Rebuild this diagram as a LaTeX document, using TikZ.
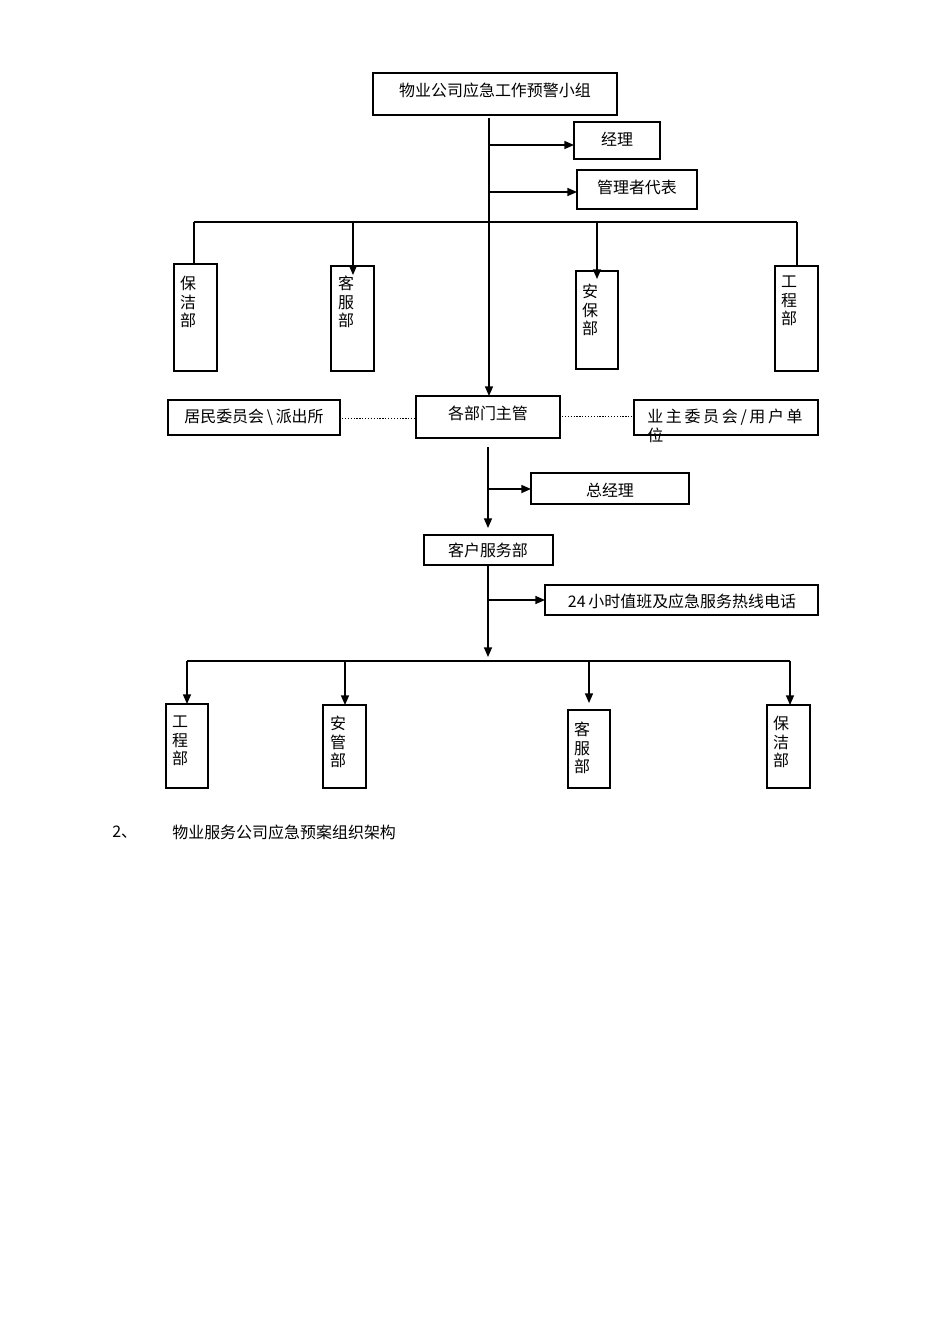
\documentclass[tikz,border=0pt]{standalone}
\usepackage{fontspec}
\setmainfont{Liberation Serif}
\newfontfamily\cjk{Noto Sans CJK SC}
\usetikzlibrary{arrows.meta}
\begin{document}
\begin{tikzpicture}[x=0.626pt,y=-0.626pt,
  box/.style={draw,line width=0.8pt},
  lbl/.style={font=\cjk\fontsize{10}{12}\selectfont,inner sep=0pt},
  vl/.style={font=\cjk\fontsize{10}{11.5}\selectfont,inner sep=0pt,align=center,anchor=north},
  ln/.style={line width=0.8pt},
  arr/.style={ln,-{Triangle[length=6pt,width=5pt]}}]
\useasboundingbox[fill=white] (0,0) rectangle (950,1344);
% top
\draw[box] (373,73) rectangle (617,115); \node[lbl] (top) at (495,90) {物业公司应急工作预警小组};
\draw[box] (574,122) rectangle (660,159); \node[lbl] (jl) at (617,139) {经理};
\draw[box] (577,170) rectangle (697,209); \node[lbl] (gl) at (637,187) {管理者代表};
\coordinate (t0) at (489,118);
\coordinate (b1) at (489,145); \coordinate (b2) at (489,192);
\draw[arr] (b1) -- (574,145);
\draw[arr] (b2) -- (577,192);
\draw[ln] (194,222) -- (797,222);
\draw[box] (174,264) rectangle (217,371); \node[vl] (a1) at (188,276) {保\\洁\\部};
\draw[box] (331,266) rectangle (374,371); \node[vl] (a2) at (346,276) {客\\服\\部};
\draw[box] (576,271) rectangle (618,369); \node[vl] (a3) at (590,284) {安\\保\\部};
\draw[box] (775,266) rectangle (818,371); \node[vl] (a4) at (789,276) {工\\程\\部};
\draw[ln] (194,222) -- (194,264); \draw[ln] (190,264)--(197,264);
\draw[arr] (353,222) -- (353,275);
\draw[arr] (597,222) -- (597,279);
\draw[ln] (797,222) -- (797,266);
% middle
\draw[box] (416,396) rectangle (560,438); \node[lbl] (gb) at (488,413) {各部门主管};
\draw[box] (168,400) rectangle (340,435); \node[lbl] (jm) at (254,417) {居民委员会\,\textbackslash\,派出所};
\draw[box] (634,400) rectangle (818,435);
\node[lbl,anchor=north west,align=left] (yz) at (647,409) {业\,主\,委\,员\,会\,/\,用\,户\,单\\位};
\draw[arr] (t0) -- (489,396);
\draw[ln,densely dotted,line width=0.5pt] (342,418) -- (414,418);
\draw[ln,densely dotted,line width=0.5pt] (562,416) -- (632,416);
% lower
\draw[box] (531,473) rectangle (689,504); \node[lbl] (zj) at (610,490) {总经理};
\draw[box] (424,535) rectangle (553,565); \node[lbl] (kf) at (488,550) {客户服务部};
\draw[box] (545,585) rectangle (818,615); \node[lbl] (rx) at (682,601) {24\,小时值班及应急服务热线电话};
\draw[arr] (488,447) -- (488,528);
\draw[arr] (488,489) -- (531,489);
\draw[arr] (488,565) -- (488,657);
\draw[arr] (488,600) -- (545,600);
\draw[ln] (187,661) -- (790,661);
\draw[box] (166,704) rectangle (208,788); \node[vl] (c1) at (180,716) {工\\程\\部};
\draw[box] (323,705) rectangle (366,788); \node[vl] (c2) at (338,716) {安\\管\\部};
\draw[box] (568,710) rectangle (610,788); \node[vl] (c3) at (582,722) {客\\服\\部};
\draw[box] (767,705) rectangle (810,788); \node[vl] (c4) at (781,716) {保\\洁\\部};
\draw[arr] (187,661) -- (187,704);
\draw[arr] (345,661) -- (345,705);
\draw[arr] (589,661) -- (589,703);
\draw[arr] (790,661) -- (790,705);
% caption
\node[lbl,anchor=west] (n2) at (112,832) {2、};
\node[lbl,anchor=west] (cap) at (172,832) {物业服务公司应急预案组织架构};
\end{tikzpicture}
\end{document}
